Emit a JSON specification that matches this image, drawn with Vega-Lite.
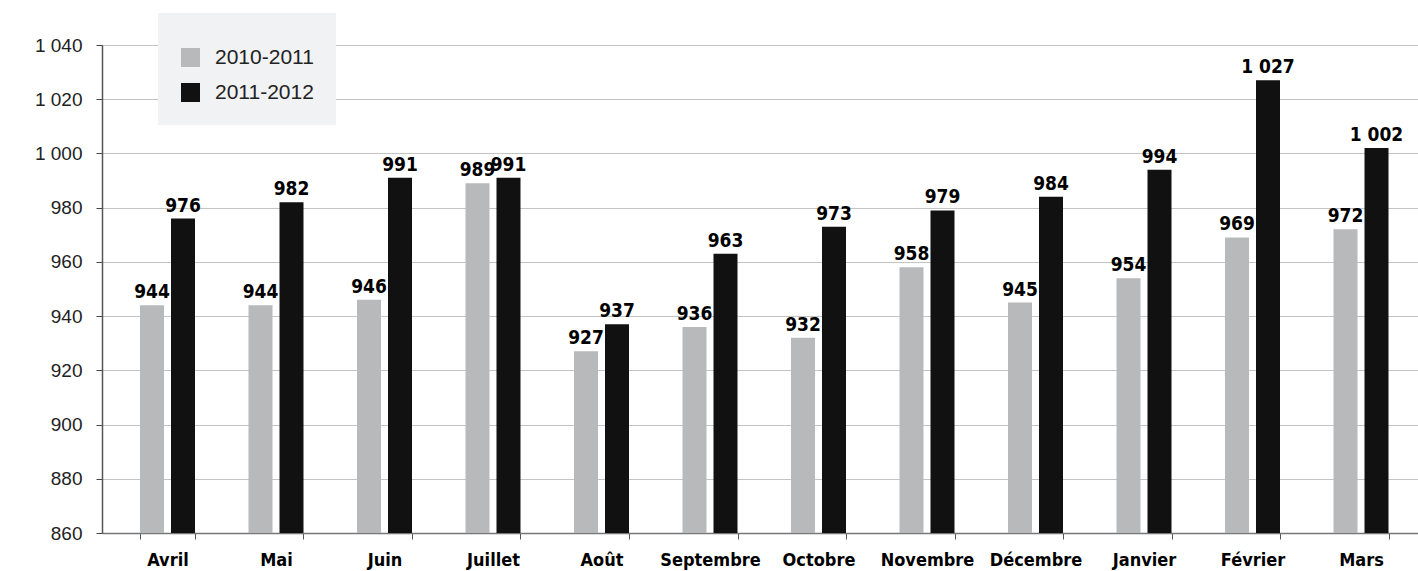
{
  "$schema": "https://vega.github.io/schema/vega-lite/v6.json",
  "autosize": {"type": "none"},
  "width": 1316,
  "height": 488,
  "padding": {"left": 102, "top": 45, "right": 0, "bottom": 38},
  "background": "white",
  "config": {
    "locale": {"number": {"decimal": ",", "thousands": " ", "grouping": [3], "currency": ["", " €"]}},
    "view": {"stroke": null}
  },
  "data": {
    "values": [
      {"mois": "Avril", "periode": "2010-2011", "valeur": 944},
      {"mois": "Avril", "periode": "2011-2012", "valeur": 976},
      {"mois": "Mai", "periode": "2010-2011", "valeur": 944},
      {"mois": "Mai", "periode": "2011-2012", "valeur": 982},
      {"mois": "Juin", "periode": "2010-2011", "valeur": 946},
      {"mois": "Juin", "periode": "2011-2012", "valeur": 991},
      {"mois": "Juillet", "periode": "2010-2011", "valeur": 989},
      {"mois": "Juillet", "periode": "2011-2012", "valeur": 991},
      {"mois": "Août", "periode": "2010-2011", "valeur": 927},
      {"mois": "Août", "periode": "2011-2012", "valeur": 937},
      {"mois": "Septembre", "periode": "2010-2011", "valeur": 936},
      {"mois": "Septembre", "periode": "2011-2012", "valeur": 963},
      {"mois": "Octobre", "periode": "2010-2011", "valeur": 932},
      {"mois": "Octobre", "periode": "2011-2012", "valeur": 973},
      {"mois": "Novembre", "periode": "2010-2011", "valeur": 958},
      {"mois": "Novembre", "periode": "2011-2012", "valeur": 979},
      {"mois": "Décembre", "periode": "2010-2011", "valeur": 945},
      {"mois": "Décembre", "periode": "2011-2012", "valeur": 984},
      {"mois": "Janvier", "periode": "2010-2011", "valeur": 954},
      {"mois": "Janvier", "periode": "2011-2012", "valeur": 994},
      {"mois": "Février", "periode": "2010-2011", "valeur": 969},
      {"mois": "Février", "periode": "2011-2012", "valeur": 1027},
      {"mois": "Mars", "periode": "2010-2011", "valeur": 972},
      {"mois": "Mars", "periode": "2011-2012", "valeur": 1002}
    ]
  },
  "encoding": {
    "x": {
      "field": "mois",
      "type": "nominal",
      "sort": null,
      "scale": {"paddingInner": 0.4931, "paddingOuter": 0.311, "align": 0.563},
      "axis": {
        "title": null,
        "labelAngle": 0,
        "labelFont": "DejaVu Sans Condensed, Liberation Sans, sans-serif",
        "labelFontWeight": "bold",
        "labelFontSize": 18,
        "labelColor": "#000000",
        "labelPadding": 12,
        "domainColor": "#777777",
        "domainWidth": 1.5,
        "tickColor": "#555555",
        "tickSize": 6,
        "tickBand": "extent",
        "grid": false
      }
    },
    "xOffset": {
      "field": "periode",
      "type": "nominal",
      "scale": {"paddingInner": 0.2258, "paddingOuter": 0}
    },
    "y": {
      "field": "valeur",
      "type": "quantitative",
      "scale": {"domain": [860, 1040], "zero": false, "nice": false},
      "axis": {
        "title": null,
        "values": [860, 880, 900, 920, 940, 960, 980, 1000, 1020, 1040],
        "format": ",d",
        "labelFont": "Liberation Sans",
        "labelFontSize": 19,
        "labelColor": "#222222",
        "labelPadding": 14,
        "tickSize": 6,
        "tickColor": "#444444",
        "domainColor": "#555555",
        "domainWidth": 1.5,
        "gridColor": "#c4c4c4",
        "gridWidth": 1.2
      }
    }
  },
  "layer": [
    {
      "mark": {"type": "bar"},
      "encoding": {
        "y2": {"datum": 860},
        "color": {
          "field": "periode",
          "type": "nominal",
          "scale": {"domain": ["2010-2011", "2011-2012"], "range": ["#b7b9ba", "#111111"]},
          "legend": {
            "title": " ",
            "titleFontSize": 10,
            "titlePadding": 2,
            "orient": "none",
            "legendX": 56,
            "legendY": -32,
            "direction": "vertical",
            "fillColor": "#f1f2f3",
            "padding": 22,
            "symbolType": "square",
            "symbolSize": 361,
            "symbolStrokeWidth": 0,
            "symbolOpacity": 1,
            "labelFont": "Liberation Sans",
            "labelFontSize": 21,
            "labelColor": "#222222",
            "labelOffset": 14,
            "rowPadding": 13,
            "labelLimit": 300,
            "offset": 0
          }
        }
      }
    },
    {
      "mark": {
        "type": "text",
        "baseline": "bottom",
        "dy": -3,
        "font": "DejaVu Sans Condensed, Liberation Sans, sans-serif",
        "fontWeight": "bold",
        "fontSize": 19,
        "color": "#000000"
      },
      "encoding": {
        "text": {"field": "valeur", "type": "quantitative", "format": ",d"}
      }
    }
  ]
}
